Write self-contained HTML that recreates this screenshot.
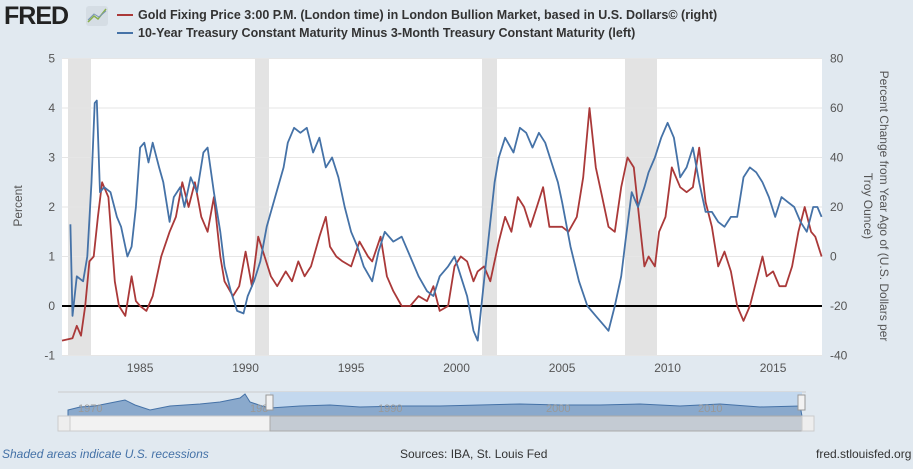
<!DOCTYPE html>
<html><head><meta charset="utf-8"><style>
body{margin:0;width:913px;height:464px;background:#e1e9f0;font-family:"Liberation Sans",sans-serif;overflow:hidden}
svg text{font-family:"Liberation Sans",sans-serif}
</style></head><body>
<svg id="s" width="913" height="464" xmlns="http://www.w3.org/2000/svg">
<rect width="913" height="464" fill="#e1e9f0"/>
<text x="4" y="24" font-size="25" font-weight="bold" fill="#222" letter-spacing="-1">FRED</text>
<rect x="86" y="6" width="22" height="20" rx="3" fill="#d5dde4"/>
<polyline points="88,22 94,16 98,19 106,9" fill="none" stroke="#8ab04a" stroke-width="1.5"/>
<polyline points="88,20 94,14 99,17 106,11" fill="none" stroke="#7a95b5" stroke-width="1"/>
<line x1="117" y1="15" x2="133" y2="15" stroke="#aa3939" stroke-width="2"/>
<text x="138" y="19" font-size="12.5" font-weight="bold" fill="#333">Gold Fixing Price 3:00 P.M. (London time) in London Bullion Market, based in U.S. Dollars© (right)</text>
<line x1="117" y1="33" x2="133" y2="33" stroke="#4572a7" stroke-width="2"/>
<text x="138" y="37" font-size="12.5" font-weight="bold" fill="#333">10-Year Treasury Constant Maturity Minus 3-Month Treasury Constant Maturity (left)</text>
<rect x="62" y="58" width="760" height="297" fill="#fff"/>
<g fill="#e3e3e3">
<rect x="68" y="58" width="23" height="297"/><rect x="255" y="58" width="14" height="297"/>
<rect x="482" y="58" width="15" height="297"/><rect x="625" y="58" width="32" height="297"/>
</g>
<g id="grid" stroke="#e6e6e6" stroke-width="1"></g>
<line x1="62" y1="306" x2="822" y2="306" stroke="#000" stroke-width="2"/>
<g id="lab" font-size="12" fill="#555"></g>
<text transform="translate(22,206) rotate(-90)" font-size="12" fill="#555" text-anchor="middle">Percent</text>
<text transform="translate(880,206) rotate(90)" font-size="12" fill="#555" text-anchor="middle">Percent Change from Year Ago of (U.S. Dollars per</text>
<text transform="translate(864,206) rotate(90)" font-size="12" fill="#555" text-anchor="middle">Troy Ounce)</text>
<polyline id="red" fill="none" stroke="#aa3939" stroke-width="1.8" stroke-linejoin="round"/>
<polyline id="blue" fill="none" stroke="#4572a7" stroke-width="1.8" stroke-linejoin="round"/>
<line x1="58" y1="392" x2="806" y2="392" stroke="#ccc"/>
<rect x="270" y="392" width="532" height="24" fill="#c3d8ee"/>
<polygon points="68,410 80,407 95,406 110,403 125,400 135,405 150,410 170,406 200,404 220,402 240,398 245,394 250,402 262,406 270,408 300,406 330,405 360,407 400,406 440,406 480,405 520,404 560,405 600,405 640,404 680,406 720,404 760,407 800,406 802,416 68,416" fill="#8aa9cc" stroke="#4572a7" stroke-width="1"/>
<g font-size="11" fill="#999"><text x="78" y="412">1970</text><text x="250" y="412">198</text><text x="378" y="412">1990</text><text x="546" y="412">2000</text><text x="698" y="412">2010</text></g>
<rect x="58" y="416" width="748" height="15" fill="#f2f2f2" stroke="#ccc"/>
<rect x="270" y="416" width="532" height="15" fill="#c4cbd3" stroke="#aaa"/>
<rect x="58" y="416" width="12" height="15" fill="#eee" stroke="#ccc"/>
<rect x="802" y="416" width="12" height="15" fill="#eee" stroke="#ccc"/>
<rect x="266" y="395" width="7" height="15" fill="#f2f2f2" stroke="#999"/>
<rect x="798" y="395" width="7" height="15" fill="#f2f2f2" stroke="#999"/>
<text x="2" y="458" font-size="12" fill="#4572a7" font-style="italic">Shaded areas indicate U.S. recessions</text>
<text x="400" y="458" font-size="12" fill="#333">Sources: IBA, St. Louis Fed</text>
<text x="816" y="458" font-size="12" fill="#333">fred.stlouisfed.org</text>
</svg>
<script>
var X=function(t){return 62+(t-1981.3)*21.1},Y=function(v){return 306-v*49.5};
var B=[1981.7,1.65,1981.8,-0.2,1982.0,0.6,1982.3,0.5,1982.5,1.0,1982.7,2.5,1982.85,4.1,1982.95,4.15,1983.1,2.3,1983.3,2.4,1983.6,2.3,1983.9,1.8,1984.1,1.6,1984.4,1.0,1984.6,1.2,1984.8,2.0,1985.0,3.2,1985.2,3.3,1985.4,2.9,1985.6,3.3,1985.9,2.8,1986.1,2.5,1986.4,1.7,1986.6,2.2,1986.9,2.4,1987.1,2.0,1987.4,2.6,1987.7,2.3,1988.0,3.1,1988.2,3.2,1988.5,2.3,1988.8,1.5,1989.0,0.8,1989.3,0.3,1989.6,-0.1,1989.9,-0.15,1990.1,0.2,1990.4,0.5,1990.7,0.9,1991.0,1.6,1991.4,2.2,1991.8,2.8,1992.0,3.3,1992.3,3.6,1992.6,3.5,1992.9,3.6,1993.2,3.1,1993.5,3.4,1993.8,2.8,1994.1,3.0,1994.4,2.6,1994.7,2.0,1995.0,1.5,1995.3,1.2,1995.6,0.8,1996.0,0.5,1996.3,1.1,1996.6,1.5,1997.0,1.3,1997.4,1.4,1997.8,1.0,1998.2,0.6,1998.6,0.3,1998.9,0.2,1999.2,0.6,1999.6,0.8,1999.9,1.0,2000.2,0.6,2000.5,0.2,2000.8,-0.5,2001.0,-0.7,2001.2,0.1,2001.5,1.3,2001.8,2.5,2002.0,3.0,2002.3,3.4,2002.7,3.1,2003.0,3.6,2003.3,3.5,2003.6,3.2,2003.9,3.5,2004.2,3.3,2004.5,2.9,2004.8,2.5,2005.0,2.1,2005.4,1.2,2005.8,0.5,2006.2,0.0,2006.6,-0.2,2007.0,-0.4,2007.2,-0.5,2007.5,0.0,2007.8,0.6,2008.0,1.3,2008.3,2.3,2008.6,2.0,2008.9,2.4,2009.1,2.7,2009.4,3.0,2009.7,3.4,2010.0,3.7,2010.3,3.4,2010.6,2.6,2010.9,2.8,2011.2,3.2,2011.5,2.5,2011.8,1.9,2012.1,1.9,2012.4,1.7,2012.7,1.6,2013.0,1.8,2013.3,1.8,2013.6,2.6,2013.9,2.8,2014.2,2.7,2014.5,2.5,2014.8,2.2,2015.1,1.8,2015.4,2.2,2015.7,2.1,2016.0,2.0,2016.3,1.7,2016.6,1.5,2016.9,2.0,2017.1,2.0,2017.3,1.8];
var R=[1981.3,-0.7,1981.8,-0.65,1982.0,-0.4,1982.2,-0.6,1982.4,0.0,1982.6,0.9,1982.8,1.0,1983.0,1.8,1983.2,2.5,1983.5,2.2,1983.8,0.5,1984.0,0.0,1984.3,-0.2,1984.6,0.6,1984.8,0.1,1985.0,0.0,1985.3,-0.1,1985.6,0.2,1986.0,1.0,1986.4,1.5,1986.7,1.8,1987.0,2.5,1987.3,2.0,1987.6,2.5,1987.9,1.8,1988.2,1.5,1988.5,2.2,1988.8,1.0,1989.0,0.5,1989.4,0.2,1989.7,0.4,1990.0,1.1,1990.3,0.4,1990.6,1.4,1990.9,1.0,1991.2,0.6,1991.5,0.4,1991.9,0.7,1992.2,0.5,1992.5,0.9,1992.8,0.6,1993.1,0.8,1993.5,1.4,1993.8,1.8,1994.0,1.2,1994.3,1.0,1994.6,0.9,1995.0,0.8,1995.4,1.3,1995.8,1.0,1996.0,0.9,1996.4,1.4,1996.7,0.6,1997.0,0.3,1997.4,0.0,1997.8,0.0,1998.2,0.2,1998.6,0.1,1998.9,0.4,1999.2,-0.1,1999.6,0.0,1999.9,0.8,2000.2,1.0,2000.5,0.9,2000.8,0.5,2001.0,0.7,2001.3,0.8,2001.6,0.5,2002.0,1.3,2002.3,1.8,2002.6,1.5,2002.9,2.2,2003.2,2.0,2003.5,1.6,2003.8,2.0,2004.1,2.4,2004.4,1.6,2004.7,1.6,2005.0,1.6,2005.3,1.5,2005.7,1.8,2006.0,2.6,2006.3,4.0,2006.6,2.8,2006.9,2.2,2007.2,1.6,2007.5,1.5,2007.8,2.4,2008.1,3.0,2008.4,2.8,2008.7,1.6,2008.9,0.8,2009.1,1.0,2009.4,0.8,2009.6,1.5,2009.9,1.8,2010.2,2.8,2010.6,2.4,2010.9,2.3,2011.2,2.4,2011.5,3.2,2011.8,2.1,2012.1,1.6,2012.4,0.8,2012.7,1.1,2013.0,0.7,2013.3,0.0,2013.6,-0.3,2013.9,0.0,2014.2,0.5,2014.5,1.0,2014.7,0.6,2015.0,0.7,2015.3,0.4,2015.6,0.4,2015.9,0.8,2016.2,1.5,2016.5,2.0,2016.8,1.5,2017.0,1.4,2017.3,1.0];
function pts(a){var s=[];for(var i=0;i<a.length;i+=2)s.push(X(a[i]).toFixed(1)+","+Y(a[i+1]).toFixed(1));return s.join(" ")}
document.getElementById("blue").setAttribute("points",pts(B));
document.getElementById("red").setAttribute("points",pts(R));
var ns="http://www.w3.org/2000/svg",g=document.getElementById("grid"),l=document.getElementById("lab");
function el(p,n,a,t){var e=document.createElementNS(ns,n);for(var k in a)e.setAttribute(k,a[k]);if(t!=null)e.textContent=t;p.appendChild(e);}
for(var v=-1;v<=5;v++){var y=Y(v);if(v!=0)el(g,"line",{x1:62,x2:822,y1:y,y2:y});
el(l,"text",{x:55,y:y+4,"text-anchor":"end"},v);el(l,"text",{x:830,y:y+4},(v-1)*20);}
for(var yr=1985;yr<=2015;yr+=5){var x=X(yr);el(l,"text",{x:x,y:372,"text-anchor":"middle"},yr);}
</script>
</body></html>
